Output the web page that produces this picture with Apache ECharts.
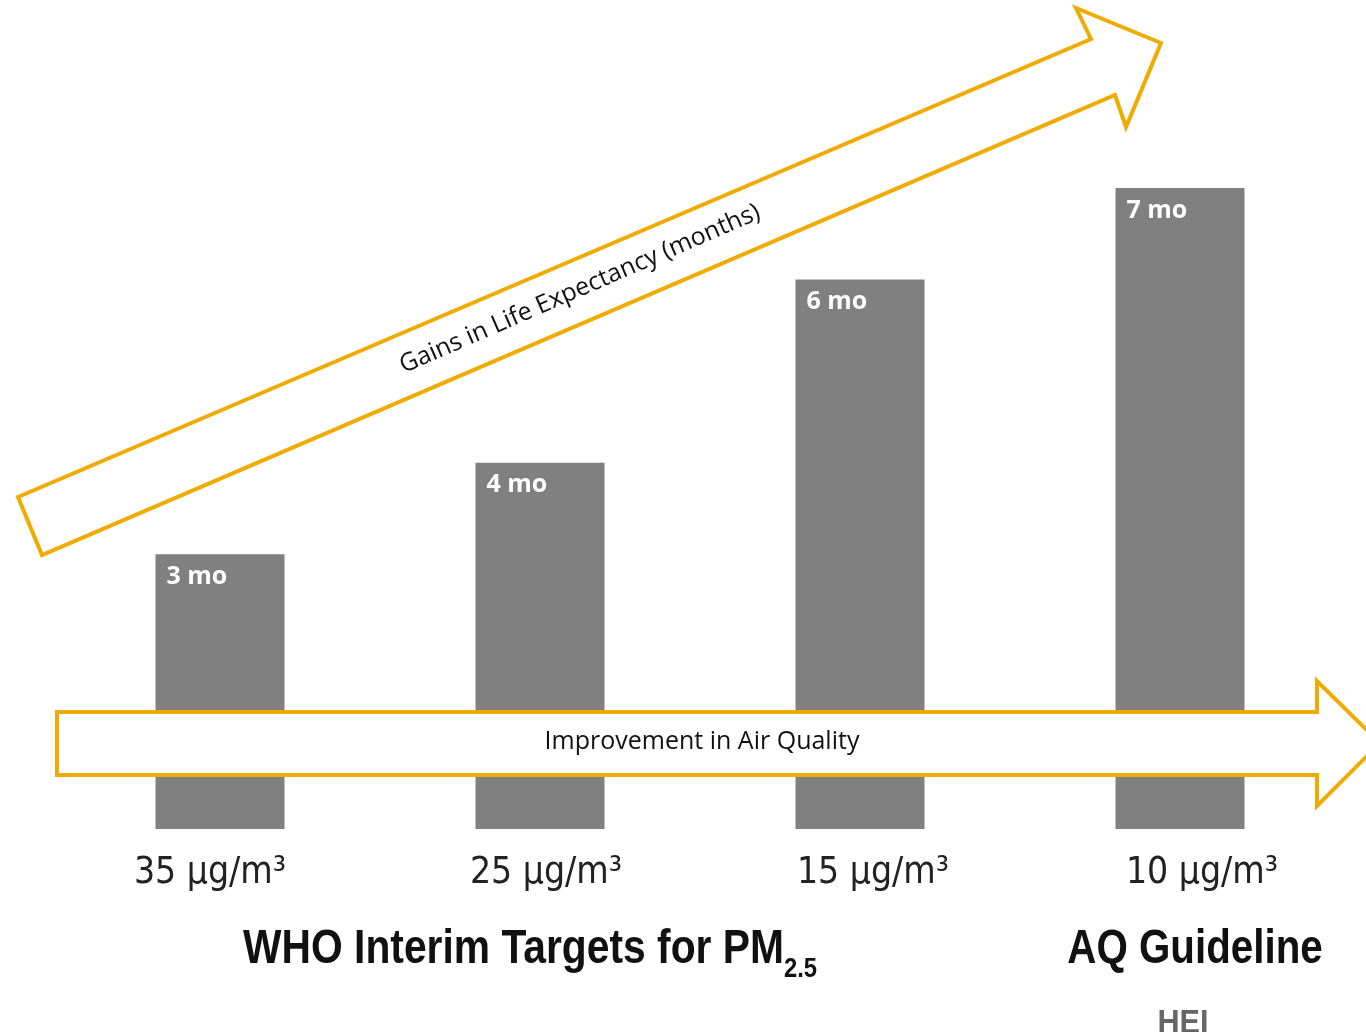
<!DOCTYPE html>
<html>
<head>
<meta charset="utf-8">
<script src="https://cdn.jsdelivr.net/npm/echarts@6/dist/echarts.min.js"></script>
<style>
  html, body { margin: 0; padding: 0; background: #fff; }
  #chart { width: 1366px; height: 1032px; }
</style>
</head>
<body>
<div id="chart"></div>
<script>
  // PM2.5 targets and the life expectancy gain for each
  const categories = ['35 μg/m³', '25 μg/m³', '15 μg/m³', '10 μg/m³'];
  const gains = [3, 4, 6, 7];
  const gainLabels = ['3 mo', '4 mo', '6 mo', '7 mo'];

  const gold = '#F0AB00';
  const deg = Math.PI / 180;
  const condensed = 'DejaVu Sans Condensed, sans-serif';
  // the tick labels in the original sit a little off the bar centres
  const labelPad = [[0, 20, 0, 0], [0, 0, 0, 12], [0, 0, 0, 26], [0, 0, 0, 44]];

  let richLabels = {};
  labelPad.forEach((p, i) => {
    richLabels['l' + i] = { padding: p, fontFamily: condensed, fontSize: 37, color: '#222' };
  });

  let mChart = echarts.init(document.getElementById('chart'));
  let options = {
    animation: false,
    grid: {
      top: 188,
      bottom: 203,
      left: 60,
      right: 26
    },
    xAxis: {
      type: 'category',
      data: categories,
      axisLine: { show: false },
      axisTick: { show: false },
      axisLabel: {
        margin: 26,
        color: '#222',
        fontFamily: condensed,
        fontSize: 37,
        formatter: (v, i) => '{l' + i + '|' + v + '}',
        rich: richLabels
      }
    },
    yAxis: {
      type: 'value',
      min: 0,
      max: 7,
      show: false,
      splitLine: { show: false }
    },
    series: [
      {
        type: 'bar',
        data: gains,
        barWidth: 129,
        itemStyle: { color: '#808080' },
        label: {
          show: true,
          position: [11, 10],
          formatter: p => gainLabels[p.dataIndex],
          color: '#fff',
          fontFamily: 'Open Sans, sans-serif',
          fontWeight: 'bold',
          fontSize: 25
        }
      }
    ],
    graphic: [
      // diagonal arrow: gains in life expectancy
      {
        type: 'polygon',
        z: 10,
        shape: {
          points: [[18, 497], [1091, 39], [1076, 8], [1161, 43], [1126, 127], [1115, 95], [42, 555]]
        },
        style: { fill: '#fff', stroke: gold, lineWidth: 4 }
      },
      {
        type: 'text',
        z: 11,
        x: 580,
        y: 289,
        rotation: 23.5 * deg,
        style: {
          text: 'Gains in Life Expectancy (months)',
          fill: '#111',
          font: '25px "Open Sans", sans-serif',
          align: 'center',
          verticalAlign: 'middle'
        }
      },
      // horizontal arrow: improvement in air quality
      {
        type: 'polygon',
        z: 10,
        shape: {
          points: [[57, 712], [1317, 712], [1317, 681], [1380, 743], [1317, 806], [1317, 775], [57, 775]]
        },
        style: { fill: '#fff', stroke: gold, lineWidth: 4 }
      },
      {
        type: 'text',
        z: 11,
        x: 702,
        y: 742,
        style: {
          text: 'Improvement in Air Quality',
          fill: '#111',
          font: '25px "Open Sans", sans-serif',
          align: 'center',
          verticalAlign: 'middle'
        }
      },
      // group titles under the axis
      {
        type: 'text',
        z: 11,
        x: 243,
        y: 950,
        scaleX: 0.85,
        style: {
          text: '{a|WHO Interim Targets for PM}{s|2.5}',
          verticalAlign: 'middle',
          rich: {
            a: {
              fontFamily: 'Liberation Sans, Arial, sans-serif',
              fontWeight: 'bold',
              fontSize: 48,
              fill: '#111'
            },
            s: {
              fontFamily: 'Liberation Sans, Arial, sans-serif',
              fontWeight: 'bold',
              fontSize: 28,
              fill: '#111',
              padding: [38, 0, 0, 0]
            }
          }
        }
      },
      {
        type: 'text',
        z: 11,
        x: 1195,
        y: 950,
        scaleX: 0.84,
        style: {
          text: 'AQ Guideline',
          fill: '#111',
          font: 'bold 48px "Liberation Sans", Arial, sans-serif',
          align: 'center',
          verticalAlign: 'middle'
        }
      },
      {
        type: 'text',
        z: 11,
        x: 1183,
        y: 1024,
        scaleX: 0.9,
        style: {
          text: 'HEI',
          fill: '#666',
          font: 'bold 34px "Liberation Sans", Arial, sans-serif',
          align: 'center',
          verticalAlign: 'middle'
        }
      }
    ]
  };
  mChart.setOption(options);
</script>
</body>
</html>
